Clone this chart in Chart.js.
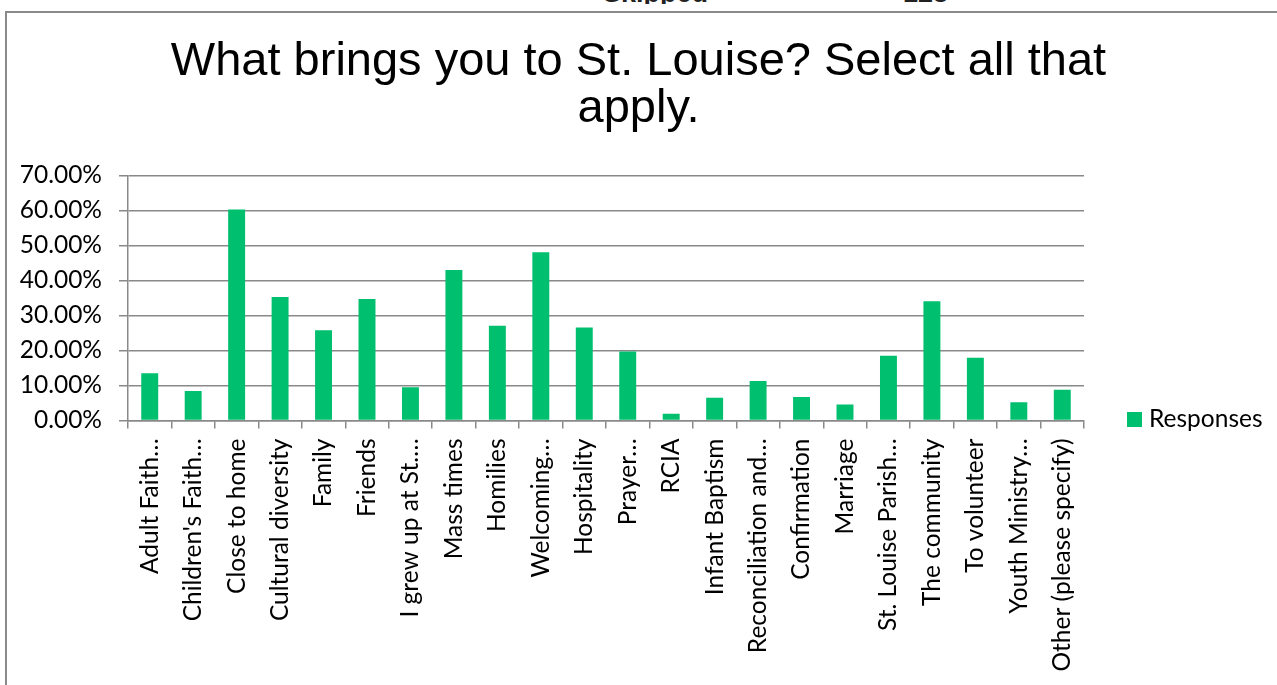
<!DOCTYPE html>
<html>
<head>
<meta charset="utf-8">
<script src="https://cdn.jsdelivr.net/npm/chart.js@4"></script>
<style>
  html, body { margin: 0; padding: 0; background: #fff; }
  #wrap { position: relative; width: 1277px; height: 685px; overflow: hidden; }
  #frame { position: absolute; left: 5px; top: 11px; width: 1400px; height: 800px;
           border-top: 2px solid #8a8a8a; border-left: 2px solid #8a8a8a; }
  #skipped { position: absolute; left: 0; top: 0; width: 1277px; height: 4px; overflow: hidden; }
  #skipped span { position: absolute; top: -22px; font: bold 27px "Liberation Sans", Arial, sans-serif;
                  line-height: normal; color: #222; }
  #chart { position: absolute; left: 0; top: 0; }
  #legend { position: absolute; left: 1127px; top: 406px; font: 24.5px Lato, sans-serif; color: #000;
            line-height: 24px; white-space: nowrap; }
  #legend i { position: absolute; left: 0; top: 6px; width: 15px; height: 15px; background: #00BF6F; }
  #legend span { position: absolute; left: 22px; top: 0; }
</style>
</head>
<body>
<div id="wrap">
  <div id="frame"></div>
  <div id="skipped"><span style="left:603px">Skipped</span><span style="left:903px">128</span></div>
  <canvas id="chart" width="1277" height="685"></canvas>
  <div id="legend"><i></i><span>Responses</span></div>
</div>
<script>
const categories = [
  'Adult Faith…', 'Children\'s Faith…', 'Close to home', 'Cultural diversity', 'Family',
  'Friends', 'I grew up at St.…', 'Mass times', 'Homilies', 'Welcoming…',
  'Hospitality', 'Prayer…', 'RCIA', 'Infant Baptism', 'Reconciliation and…',
  'Confirmation', 'Marriage', 'St. Louise Parish…', 'The community', 'To volunteer',
  'Youth Ministry…', 'Other (please specify)'
];
const responses = [
  0.135, 0.084, 0.603, 0.353, 0.258,
  0.347, 0.095, 0.430, 0.271, 0.481,
  0.266, 0.197, 0.019, 0.065, 0.113,
  0.067, 0.046, 0.185, 0.341, 0.179,
  0.052, 0.088
];
const yTicks = [0, 0.1, 0.2, 0.3, 0.4, 0.5, 0.6, 0.7];

const gridColor = '#898989';
const tickFont = { family: 'Lato', size: 24.5 };

const ctx = document.getElementById('chart').getContext('2d');
window.surveyChart = new Chart(ctx, {
  type: 'bar',
  data: {
    labels: categories,
    datasets: [{
      label: 'Responses',
      data: responses,
      backgroundColor: '#00BF6F',
      categoryPercentage: 1,
      barPercentage: 0.39
    }]
  },
  options: {
    responsive: false,
    animation: false,
    layout: {
      padding: 0
    },
    plugins: {
      legend: { display: false },
      tooltip: { enabled: false },
      title: {
        display: true,
        text: ['What brings you to St. Louise? Select all that', 'apply.'],
        color: '#000',
        font: { family: 'Liberation Sans', size: 47, weight: 'normal', lineHeight: 1.0 },
        padding: { top: 39, bottom: 42.5 }
      }
    },
    scales: {
      x: {
        afterFit: (scale) => { scale.height = 264.5; },
        border: { display: true, color: gridColor, width: 1.5 },
        grid: {
          offset: true,
          drawOnChartArea: false,
          drawTicks: true,
          tickLength: 8,
          color: gridColor,
          lineWidth: 1.5
        },
        ticks: {
          autoSkip: false,
          minRotation: 90,
          maxRotation: 90,
          padding: 10,
          color: '#000',
          font: tickFont
        }
      },
      y: {
        min: 0,
        max: 0.7,
        afterFit: (scale) => { scale.width = 128; },
        afterBuildTicks: (scale) => { scale.ticks = yTicks.map(v => ({ value: v })); },
        border: { display: true, color: gridColor, width: 1.5 },
        grid: {
          color: gridColor,
          lineWidth: 1.5,
          tickLength: 9
        },
        ticks: {
          padding: 17,
          color: '#000',
          font: tickFont,
          callback: (v) => (v * 100).toFixed(2) + '%'
        }
      },
      // empty right-hand box that keeps the space where the legend sits
      legendSpace: {
        type: 'linear',
        position: 'right',
        afterFit: (scale) => { scale.width = 193; },
        border: { display: false },
        grid: { display: false, drawOnChartArea: false },
        ticks: { display: false }
      }
    }
  }
});
</script>
</body>
</html>
